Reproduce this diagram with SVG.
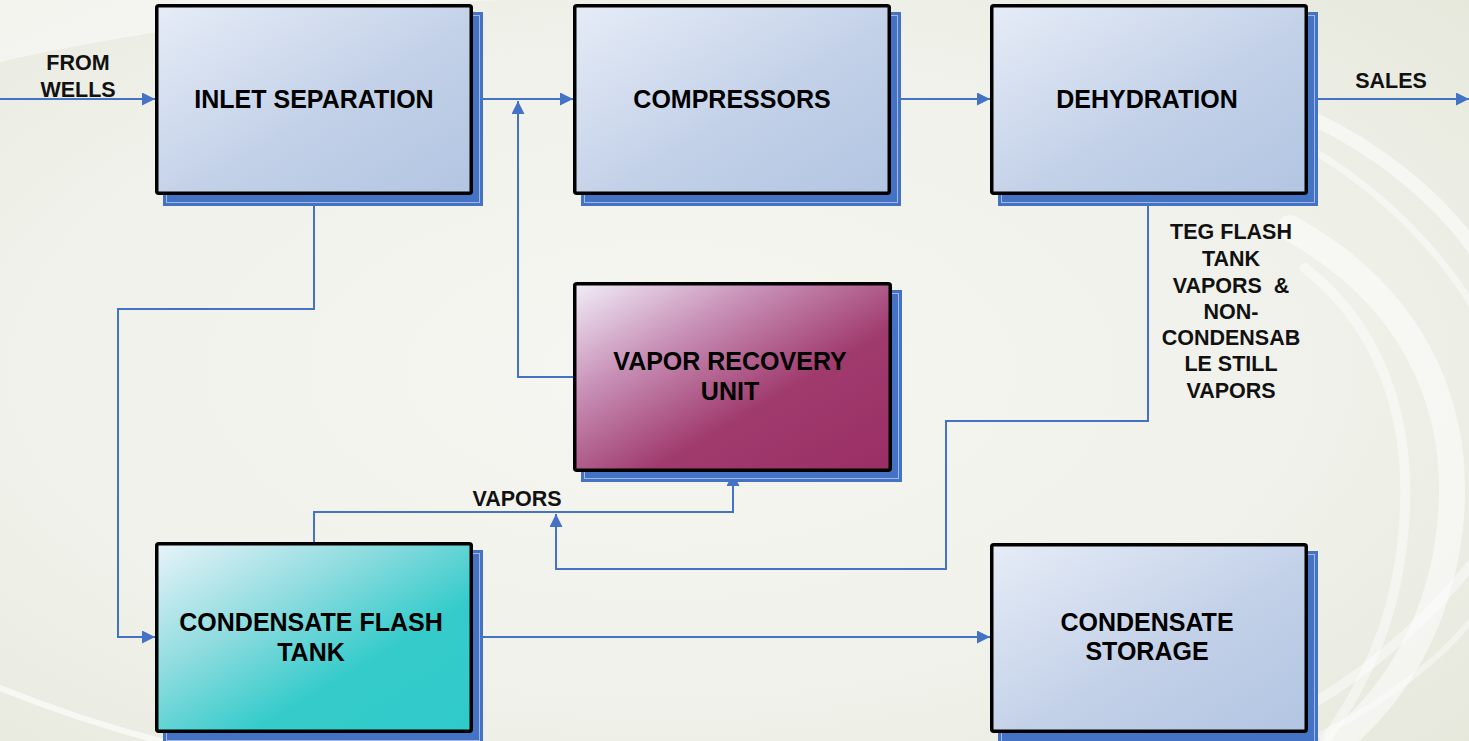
<svg xmlns="http://www.w3.org/2000/svg" width="1469" height="741" viewBox="0 0 1469 741">
  <defs>
    <radialGradient id="bg" cx="0.45" cy="0.5" r="0.75">
      <stop offset="0" stop-color="#F6F6F2"/>
      <stop offset="0.6" stop-color="#F0F1EA"/>
      <stop offset="1" stop-color="#E6E8DC"/>
    </radialGradient>
    <linearGradient id="gBlue" x1="0" y1="0" x2="1" y2="1">
      <stop offset="0" stop-color="#E6ECF7"/>
      <stop offset="0.55" stop-color="#C3D1E8"/>
      <stop offset="1" stop-color="#B2C5E2"/>
    </linearGradient>
    <linearGradient id="gMagenta" x1="0" y1="0" x2="1" y2="1">
      <stop offset="0" stop-color="#F1EEF9"/>
      <stop offset="0.3" stop-color="#C891B7"/>
      <stop offset="0.62" stop-color="#A03B6E"/>
      <stop offset="1" stop-color="#9A2E64"/>
    </linearGradient>
    <linearGradient id="gTeal" x1="0" y1="0" x2="1" y2="1">
      <stop offset="0" stop-color="#E8F3F9"/>
      <stop offset="0.35" stop-color="#8FDCDF"/>
      <stop offset="0.65" stop-color="#36CBCB"/>
      <stop offset="1" stop-color="#30CACA"/>
    </linearGradient>
    <marker id="arrow" markerUnits="userSpaceOnUse" markerWidth="13" markerHeight="13" viewBox="0 0 12 12" refX="12" refY="6" orient="auto">
      <path d="M0,0 L12,6 L0,12 z" fill="#4472C4"/>
    </marker>
    <style>
      .shadow { fill: #4472C4; }
      .shadowLine { fill: none; stroke: #C9D5EC; stroke-width: 1; stroke-opacity: 0.7; }
      .box { stroke: #000; stroke-width: 3.5; }
      .boxText { font-family: "Liberation Sans", Arial, sans-serif; font-weight: bold; font-size: 25px; fill: #000; text-anchor: middle; }
      .label { font-family: "Liberation Sans", Arial, sans-serif; font-weight: bold; font-size: 21.5px; fill: #111; text-anchor: middle; white-space: pre; }
      .conn { fill: none; stroke: #4472C4; stroke-width: 2; }
      .swirl { fill: none; stroke: #FFFFFF; stroke-linecap: round; }
    </style>
  </defs>

  <!-- background and decorative swirls -->
  <rect x="0" y="0" width="1469" height="741" fill="url(#bg)"/>
  <path d="M0,62 C150,28 310,8 500,0 L0,0 z" fill="#FFFFFF" fill-opacity="0.45"/>
  <path d="M0,688 C60,712 110,728 160,741" class="swirl" stroke-width="6" stroke-opacity="0.6"/>
  <g>
    <path d="M1312,118 C1380,150 1440,200 1475,250" class="swirl" stroke-width="14" stroke-opacity="0.5"/>
    <path d="M1312,150 C1380,190 1440,250 1475,310" class="swirl" stroke-width="7" stroke-opacity="0.45"/>
    <path d="M1290,228 C1420,300 1472,420 1445,560 C1428,640 1390,700 1335,745" class="swirl" stroke-width="26" stroke-opacity="0.5"/>
    <path d="M1305,268 C1390,335 1418,440 1400,560 C1390,630 1362,690 1322,745" class="swirl" stroke-width="10" stroke-opacity="0.45"/>
    <path d="M1310,705 C1380,665 1440,605 1475,560" class="swirl" stroke-width="10" stroke-opacity="0.45"/>
    <path d="M1320,735 C1390,700 1445,655 1475,615" class="swirl" stroke-width="6" stroke-opacity="0.4"/>
  </g>

  <!-- connectors -->
  <g id="connectors">
    <path class="conn" d="M0,99 H155" marker-end="url(#arrow)"/>
    <path class="conn" d="M473,99 H573" marker-end="url(#arrow)"/>
    <path class="conn" d="M891,99 H990" marker-end="url(#arrow)"/>
    <path class="conn" d="M1308,99 H1469" marker-end="url(#arrow)"/>
    <path class="conn" d="M573,377 H518 V101" marker-end="url(#arrow)"/>
    <path class="conn" d="M314,195 V309 H118 V637 H155" marker-end="url(#arrow)"/>
    <path class="conn" d="M314,542 V512 H733 V473" marker-end="url(#arrow)"/>
    <path class="conn" d="M1148,195 V421 H946 V569 H556 V514" marker-end="url(#arrow)"/>
    <path class="conn" d="M473,637 H990" marker-end="url(#arrow)"/>
  </g>

  <!-- stream labels -->
  <g id="labels">
    <text class="label" x="78" y="70">FROM</text>
    <text class="label" x="78" y="97">WELLS</text>
    <text class="label" x="1391" y="88">SALES</text>
    <text class="label" x="517" y="506">VAPORS</text>
    <text class="label" x="1231" y="239">TEG FLASH</text>
    <text class="label" x="1231" y="266">TANK</text>
    <text class="label" x="1231" y="293">VAPORS  &amp;</text>
    <text class="label" x="1231" y="319">NON-</text>
    <text class="label" x="1231" y="345">CONDENSAB</text>
    <text class="label" x="1231" y="371">LE STILL</text>
    <text class="label" x="1231" y="398">VAPORS</text>
  </g>

  <!-- process units -->
  <g id="inlet-separation">
    <rect class="shadow" x="163" y="12" width="320" height="194"/>
    <rect class="shadowLine" x="166.5" y="15.5" width="313" height="187"/>
    <rect class="box" x="156.75" y="5.75" width="314.5" height="187.5" rx="2" fill="url(#gBlue)"/>
    <text class="boxText" x="314" y="108">INLET SEPARATION</text>
  </g>

  <g id="compressors">
    <rect class="shadow" x="581" y="12" width="320" height="194"/>
    <rect class="shadowLine" x="584.5" y="15.5" width="313" height="187"/>
    <rect class="box" x="574.75" y="5.75" width="314.5" height="187.5" rx="2" fill="url(#gBlue)"/>
    <text class="boxText" x="732" y="108">COMPRESSORS</text>
  </g>

  <g id="dehydration">
    <rect class="shadow" x="998" y="12" width="320" height="194"/>
    <rect class="shadowLine" x="1001.5" y="15.5" width="313" height="187"/>
    <rect class="box" x="991.75" y="5.75" width="314.5" height="187.5" rx="2" fill="url(#gBlue)"/>
    <text class="boxText" x="1147" y="108">DEHYDRATION</text>
  </g>

  <g id="vapor-recovery-unit">
    <rect class="shadow" x="581" y="290" width="321" height="192"/>
    <rect class="shadowLine" x="584.5" y="293.5" width="314" height="185"/>
    <rect class="box" x="574.75" y="283.75" width="315.5" height="186.5" rx="2" fill="url(#gMagenta)"/>
    <text class="boxText" x="730" y="370">VAPOR RECOVERY</text>
    <text class="boxText" x="730" y="400">UNIT</text>
  </g>

  <g id="condensate-flash-tank">
    <rect class="shadow" x="163" y="550" width="320" height="194"/>
    <rect class="shadowLine" x="166.5" y="553.5" width="313" height="187"/>
    <rect class="box" x="156.75" y="543.75" width="314.5" height="187.5" rx="2" fill="url(#gTeal)"/>
    <text class="boxText" x="311" y="631">CONDENSATE FLASH</text>
    <text class="boxText" x="311" y="661">TANK</text>
  </g>

  <g id="condensate-storage">
    <rect class="shadow" x="998" y="551" width="320" height="194"/>
    <rect class="shadowLine" x="1001.5" y="554.5" width="313" height="187"/>
    <rect class="box" x="991.75" y="544.75" width="314.5" height="186.5" rx="2" fill="url(#gBlue)"/>
    <text class="boxText" x="1147" y="631">CONDENSATE</text>
    <text class="boxText" x="1147" y="660">STORAGE</text>
  </g>
</svg>
